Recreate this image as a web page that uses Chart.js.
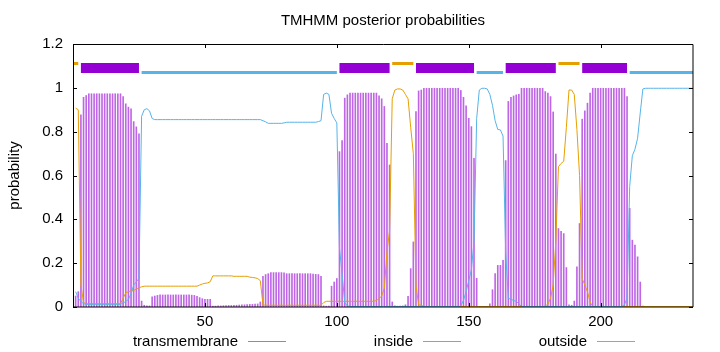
<!DOCTYPE html>
<html>
<head>
<meta charset="utf-8">
<title>TMHMM posterior probabilities</title>
<script src="https://cdn.jsdelivr.net/npm/chart.js@4.4.1/dist/chart.umd.min.js"></script>
<style>
  html, body { margin: 0; padding: 0; background: #fff; }
  #wrap { position: relative; width: 720px; height: 352px; font-family: 'Liberation Sans', Arial, sans-serif; color: #000; }
  #tmChart { position: absolute; left: 0; top: 0; }
  #title { position: absolute; left: 73px; width: 620px; top: 11px; text-align: center; font-size: 15px; line-height: 17px; }
  .leg-text { position: absolute; top: 332px; width: 200px; text-align: right; font-size: 15px; line-height: 17px; }
  .leg-line { position: absolute; top: 341px; width: 38px; height: 1px; }
</style>
</head>
<body>
<div id="wrap">
  <canvas id="tmChart" width="720" height="352"></canvas>
  <div id="title">TMHMM posterior probabilities</div>
  <div id="legend"></div>
</div>
<script>
// posterior probabilities per residue
const transmembrane = [
  0.05, 0.07, 0.877, 0.957, 0.965, 0.973, 0.973, 0.973, 0.973, 0.973,
  0.973, 0.973, 0.973, 0.973, 0.973, 0.973, 0.973, 0.973, 0.96, 0.927,
  0.912, 0.904, 0.846, 0.822, 0.79, 0.027, 0.008, 0.005, 0.005, 0.046,
  0.05, 0.053, 0.055, 0.055, 0.055, 0.055, 0.055, 0.055, 0.055, 0.055,
  0.055, 0.055, 0.055, 0.055, 0.054, 0.053, 0.049, 0.043, 0.038, 0.035,
  0.035, 0.035, 0.004, 0.004, 0.005, 0.005, 0.006, 0.006, 0.007, 0.007,
  0.008, 0.008, 0.009, 0.01, 0.01, 0.011, 0.012, 0.012, 0.013, 0.014,
  0.023, 0.14, 0.148, 0.152, 0.157, 0.157, 0.157, 0.157, 0.157, 0.156,
  0.152, 0.152, 0.152, 0.152, 0.152, 0.152, 0.152, 0.152, 0.152, 0.152,
  0.15, 0.149, 0.148, 0.14, 0.005, 0.004, 0.004, 0.095, 0.114, 0.13,
  0.709, 0.759, 0.953, 0.968, 0.976, 0.976, 0.976, 0.976, 0.976, 0.976,
  0.976, 0.976, 0.976, 0.976, 0.976, 0.963, 0.95, 0.915, 0.747, 0.648,
  0.023, 0.005, 0.004, 0.004, 0.005, 0.01, 0.049, 0.175, 0.297, 0.892,
  0.986, 0.99, 0.998, 0.998, 0.998, 0.998, 0.998, 0.998, 0.998, 0.998,
  0.998, 0.998, 0.998, 0.998, 0.998, 0.998, 0.988, 0.957, 0.918, 0.861,
  0.823, 0.678, 0.131, 0.003, 0.002, 0.002, 0.003, 0.015, 0.079, 0.152,
  0.19, 0.19, 0.213, 0.668, 0.938, 0.957, 0.963, 0.968, 0.97, 0.998,
  0.998, 0.998, 0.998, 0.998, 0.998, 0.998, 0.998, 0.998, 0.983, 0.976,
  0.96, 0.89, 0.698, 0.358, 0.345, 0.335, 0.18, 0.01, 0.008, 0.027,
  0.183, 0.381, 0.857, 0.895, 0.93, 0.976, 0.998, 0.998, 0.998, 0.998,
  0.998, 0.998, 0.998, 0.998, 0.998, 0.998, 0.998, 0.998, 0.998, 0.96,
  0.45, 0.305, 0.282, 0.229, 0.114, 0.004, 0, 0, 0, 0,
  0, 0, 0, 0, 0, 0, 0, 0, 0, 0,
  0, 0, 0, 0, 0
]

const inside = [
  0.07, 0.04, 0.025, 0.015, 0.012, 0.012, 0.012, 0.012, 0.012, 0.012,
  0.012, 0.012, 0.012, 0.012, 0.012, 0.012, 0.012, 0.012, 0.018, 0.025,
  0.035, 0.06, 0.1, 0.115, 0.13, 0.87, 0.9, 0.905, 0.895, 0.86,
  0.855, 0.855, 0.855, 0.855, 0.855, 0.855, 0.855, 0.855, 0.855, 0.855,
  0.855, 0.855, 0.855, 0.855, 0.855, 0.855, 0.855, 0.855, 0.855, 0.855,
  0.855, 0.855, 0.855, 0.855, 0.855, 0.855, 0.855, 0.855, 0.855, 0.855,
  0.855, 0.855, 0.855, 0.855, 0.855, 0.855, 0.855, 0.855, 0.855, 0.855,
  0.855, 0.85, 0.845, 0.838, 0.838, 0.838, 0.838, 0.838, 0.838, 0.84,
  0.843, 0.843, 0.843, 0.843, 0.843, 0.843, 0.843, 0.843, 0.843, 0.843,
  0.843, 0.843, 0.846, 0.85, 0.97, 0.976, 0.97, 0.884, 0.86, 0.84,
  0.27, 0.15, 0.02, 0.005, 0.002, 0.002, 0.002, 0.002, 0.002, 0.002,
  0.002, 0.002, 0.002, 0.002, 0.002, 0.002, 0.002, 0.002, 0.002, 0.002,
  0.002, 0.002, 0.002, 0.002, 0.002, 0.002, 0.002, 0.002, 0.002, 0.002,
  0.002, 0.002, 0.002, 0.002, 0.002, 0.002, 0.002, 0.002, 0.002, 0.002,
  0.002, 0.002, 0.002, 0.002, 0.002, 0.002, 0.005, 0.03, 0.07, 0.12,
  0.17, 0.3, 0.86, 0.99, 0.998, 0.998, 0.995, 0.97, 0.92, 0.85,
  0.81, 0.808, 0.78, 0.25, 0.04, 0.035, 0.03, 0.025, 0.015, 0.002,
  0.002, 0.002, 0.002, 0.002, 0.002, 0.002, 0.002, 0.002, 0.002, 0.002,
  0.002, 0.002, 0.002, 0.002, 0.002, 0.002, 0.002, 0.002, 0.002, 0.002,
  0.002, 0.002, 0.002, 0.002, 0.002, 0.002, 0.002, 0.002, 0.002, 0.002,
  0.002, 0.002, 0.002, 0.002, 0.002, 0.002, 0.002, 0.002, 0.01, 0.04,
  0.55, 0.69, 0.72, 0.77, 0.885, 0.995, 0.998, 0.998, 0.998, 0.998,
  0.998, 0.998, 0.998, 0.998, 0.998, 0.998, 0.998, 0.998, 0.998, 0.998,
  0.998, 0.998, 0.998, 0.998, 0.998
]

const outside = [
  0.907, 0.9, 0.1, 0.02, 0.015, 0.015, 0.015, 0.015, 0.015, 0.015,
  0.015, 0.015, 0.015, 0.015, 0.015, 0.015, 0.015, 0.015, 0.04, 0.065,
  0.07, 0.073, 0.075, 0.082, 0.088, 0.092, 0.095, 0.095, 0.095, 0.095,
  0.095, 0.095, 0.095, 0.095, 0.095, 0.095, 0.095, 0.095, 0.095, 0.095,
  0.095, 0.095, 0.095, 0.095, 0.095, 0.095, 0.095, 0.1, 0.105, 0.108,
  0.11, 0.115, 0.142, 0.142, 0.142, 0.142, 0.142, 0.142, 0.142, 0.142,
  0.14, 0.14, 0.14, 0.14, 0.14, 0.14, 0.136, 0.135, 0.133, 0.13,
  0.12, 0.01, 0.008, 0.008, 0.008, 0.008, 0.008, 0.008, 0.008, 0.008,
  0.008, 0.008, 0.008, 0.008, 0.008, 0.008, 0.008, 0.008, 0.008, 0.008,
  0.008, 0.008, 0.008, 0.008, 0.02, 0.026, 0.026, 0.026, 0.026, 0.026,
  0.026, 0.026, 0.026, 0.026, 0.026, 0.026, 0.026, 0.026, 0.026, 0.026,
  0.026, 0.026, 0.026, 0.026, 0.03, 0.038, 0.05, 0.085, 0.25, 0.35,
  0.95, 0.99, 0.995, 0.995, 0.99, 0.97, 0.95, 0.82, 0.7, 0.1,
  0.01, 0.008, 0.002, 0.002, 0.002, 0.002, 0.002, 0.002, 0.002, 0.002,
  0.002, 0.002, 0.002, 0.002, 0.002, 0.002, 0.002, 0.002, 0.002, 0.002,
  0.002, 0.002, 0.002, 0.002, 0.002, 0.002, 0.002, 0.002, 0.002, 0.002,
  0.002, 0.002, 0.002, 0.002, 0.002, 0.002, 0.002, 0.002, 0.002, 0.002,
  0.002, 0.002, 0.002, 0.002, 0.002, 0.002, 0.002, 0.002, 0.005, 0.012,
  0.04, 0.1, 0.3, 0.64, 0.655, 0.665, 0.82, 0.99, 0.99, 0.97,
  0.81, 0.6, 0.13, 0.1, 0.07, 0.023, 0.002, 0.002, 0.002, 0.002,
  0.002, 0.002, 0.002, 0.002, 0.002, 0.002, 0.002, 0.002, 0.002, 0.002,
  0.002, 0.002, 0.002, 0.002, 0.002, 0.002, 0.002, 0.002, 0.002, 0.002,
  0.002, 0.002, 0.002, 0.002, 0.002, 0.002, 0.002, 0.002, 0.002, 0.002,
  0.002, 0.002, 0.002, 0.002, 0.002
]

const residues = transmembrane.map((_, i) => i + 1)

// predicted topology drawn above the curves
const tmSegments      = [[3, 25], [101, 120], [130, 152], [164, 183], [193, 210]]
const insideSegments  = [[26, 100], [153, 163], [211, 235]]
const outsideSegments = [[0, 2], [121, 129], [184, 192]]
const TM_LEVEL      = 1.09
const INSIDE_LEVEL  = 1.07
const OUTSIDE_LEVEL = 1.111

const xTicks = [50, 100, 150, 200]
const yTicks = [0, 0.2, 0.4, 0.6, 0.8, 1, 1.2]

const X_MIN = 0
const X_MAX = 235

const PURPLE = '#9400d3'
const IMPULSE = 'rgba(148, 0, 211, 0.6)'
const BLUE   = '#56b4e9'
const ORANGE = '#e69f00'
const FONT   = { family: "'Liberation Sans', Arial, sans-serif", size: 15 }

function segmentPoints(segs, level) {
  const pts = []
  segs.forEach(([a, b]) => {
    pts.push({ x: a, y: level }, { x: b, y: level }, { x: b, y: null })
  })
  return pts
}

function seriesPoints(values) {
  return residues.map((x, i) => ({ x, y: values[i] }))
}

// border box + inward tick marks, gnuplot style
const framePlugin = {
  id: 'frame',
  afterDatasetsDraw(chart) {
    const { ctx, chartArea: a, scales } = chart
    ctx.save()
    ctx.strokeStyle = '#000'
    ctx.lineWidth = 1
    ctx.beginPath()
    ctx.moveTo(a.left + 0.5, a.top + 0.5)
    ctx.lineTo(a.right, a.top + 0.5)
    ctx.lineTo(a.right, a.bottom)
    ctx.lineTo(a.left + 0.5, a.bottom)
    ctx.closePath()
    ctx.stroke()

    const len = 4
    ctx.beginPath()
    yTicks.forEach(v => {
      const y = Math.round(scales.y.getPixelForValue(v)) + 0.5
      ctx.moveTo(a.left, y); ctx.lineTo(a.left + len, y)
      ctx.moveTo(a.right, y); ctx.lineTo(a.right - len, y)
    })
    xTicks.forEach(v => {
      const x = Math.round(scales.x.getPixelForValue(v)) + 0.5
      ctx.moveTo(x, a.bottom); ctx.lineTo(x, a.bottom - len)
      ctx.moveTo(x, a.top); ctx.lineTo(x, a.top + len)
    })
    ctx.stroke()
    ctx.restore()
  }
}

function buildLegend() {
  const items = [
    { label: 'transmembrane', color: IMPULSE, end: 238 },
    { label: 'inside',        color: BLUE,    end: 413 },
    { label: 'outside',       color: ORANGE,  end: 587 },
  ]
  const box = document.getElementById('legend')
  items.forEach(it => {
    const t = document.createElement('div')
    t.className = 'leg-text'
    t.style.left = (it.end - 200) + 'px'
    t.textContent = it.label
    const l = document.createElement('div')
    l.className = 'leg-line'
    l.style.left = (it.end + 10) + 'px'
    l.style.background = it.color
    box.appendChild(t)
    box.appendChild(l)
  })
}

function drawChart() {
  const ctx = document.getElementById('tmChart').getContext('2d')

  new Chart(ctx, {
    type: 'bar',
    data: {
      datasets: [
        {
          type: 'line',
          label: 'inside',
          data: seriesPoints(inside),
          borderColor: BLUE,
          borderWidth: 1,
          pointRadius: 0,
          tension: 0,
          order: 1,
        },
        {
          type: 'line',
          label: 'outside',
          data: seriesPoints(outside),
          borderColor: ORANGE,
          borderWidth: 1,
          pointRadius: 0,
          tension: 0,
          order: 1,
        },
        {
          type: 'bar',
          label: 'transmembrane',
          data: seriesPoints(transmembrane),
          backgroundColor: IMPULSE,
          borderWidth: 0,
          barThickness: 1,
          order: 3,
        },
        {
          type: 'line',
          label: 'tm-topology',
          data: segmentPoints(tmSegments, TM_LEVEL),
          borderColor: PURPLE,
          borderWidth: 10,
          borderCapStyle: 'butt',
          pointRadius: 0,
          spanGaps: false,
          order: 0,
        },
        {
          type: 'line',
          label: 'inside-topology',
          data: segmentPoints(insideSegments, INSIDE_LEVEL),
          borderColor: BLUE,
          borderWidth: 3,
          borderCapStyle: 'butt',
          pointRadius: 0,
          spanGaps: false,
          order: 0,
        },
        {
          type: 'line',
          label: 'outside-topology',
          data: segmentPoints(outsideSegments, OUTSIDE_LEVEL),
          borderColor: ORANGE,
          borderWidth: 3,
          borderCapStyle: 'butt',
          pointRadius: 0,
          spanGaps: false,
          order: 0,
        },
      ],
    },
    options: {
      responsive: false,
      animation: false,
      layout: { padding: { top: 44, right: 27, bottom: 20, left: 0 } },
      plugins: {
        legend: { display: false },
        tooltip: { enabled: false },
        title: { display: false },
      },
      scales: {
        x: {
          type: 'linear',
          min: X_MIN,
          max: X_MAX,
          offset: false,
          grid: { display: false, drawTicks: false },
          border: { display: false },
          ticks: { font: FONT, color: '#000', padding: 6, maxRotation: 0 },
          afterBuildTicks: (s) => { s.ticks = xTicks.map(v => ({ value: v })) },
          afterFit: (s) => { s.height = 25 },
        },
        y: {
          min: 0,
          max: 1.2,
          grid: { display: false, drawTicks: false },
          border: { display: false },
          ticks: {
            font: FONT,
            color: '#000',
            padding: 10,
            callback: (v) => String(Number(v.toFixed(1))),
          },
          afterBuildTicks: (s) => { s.ticks = yTicks.map(v => ({ value: v })) },
          title: {
            display: true,
            text: 'probability',
            font: FONT,
            color: '#000',
            padding: { top: 6, bottom: 0 },
          },
          afterFit: (s) => { s.width = 73 },
        },
      },
    },
    plugins: [framePlugin],
  })
}

document.addEventListener('DOMContentLoaded', () => {
  buildLegend()
  drawChart()
})
</script>
</body>
</html>
